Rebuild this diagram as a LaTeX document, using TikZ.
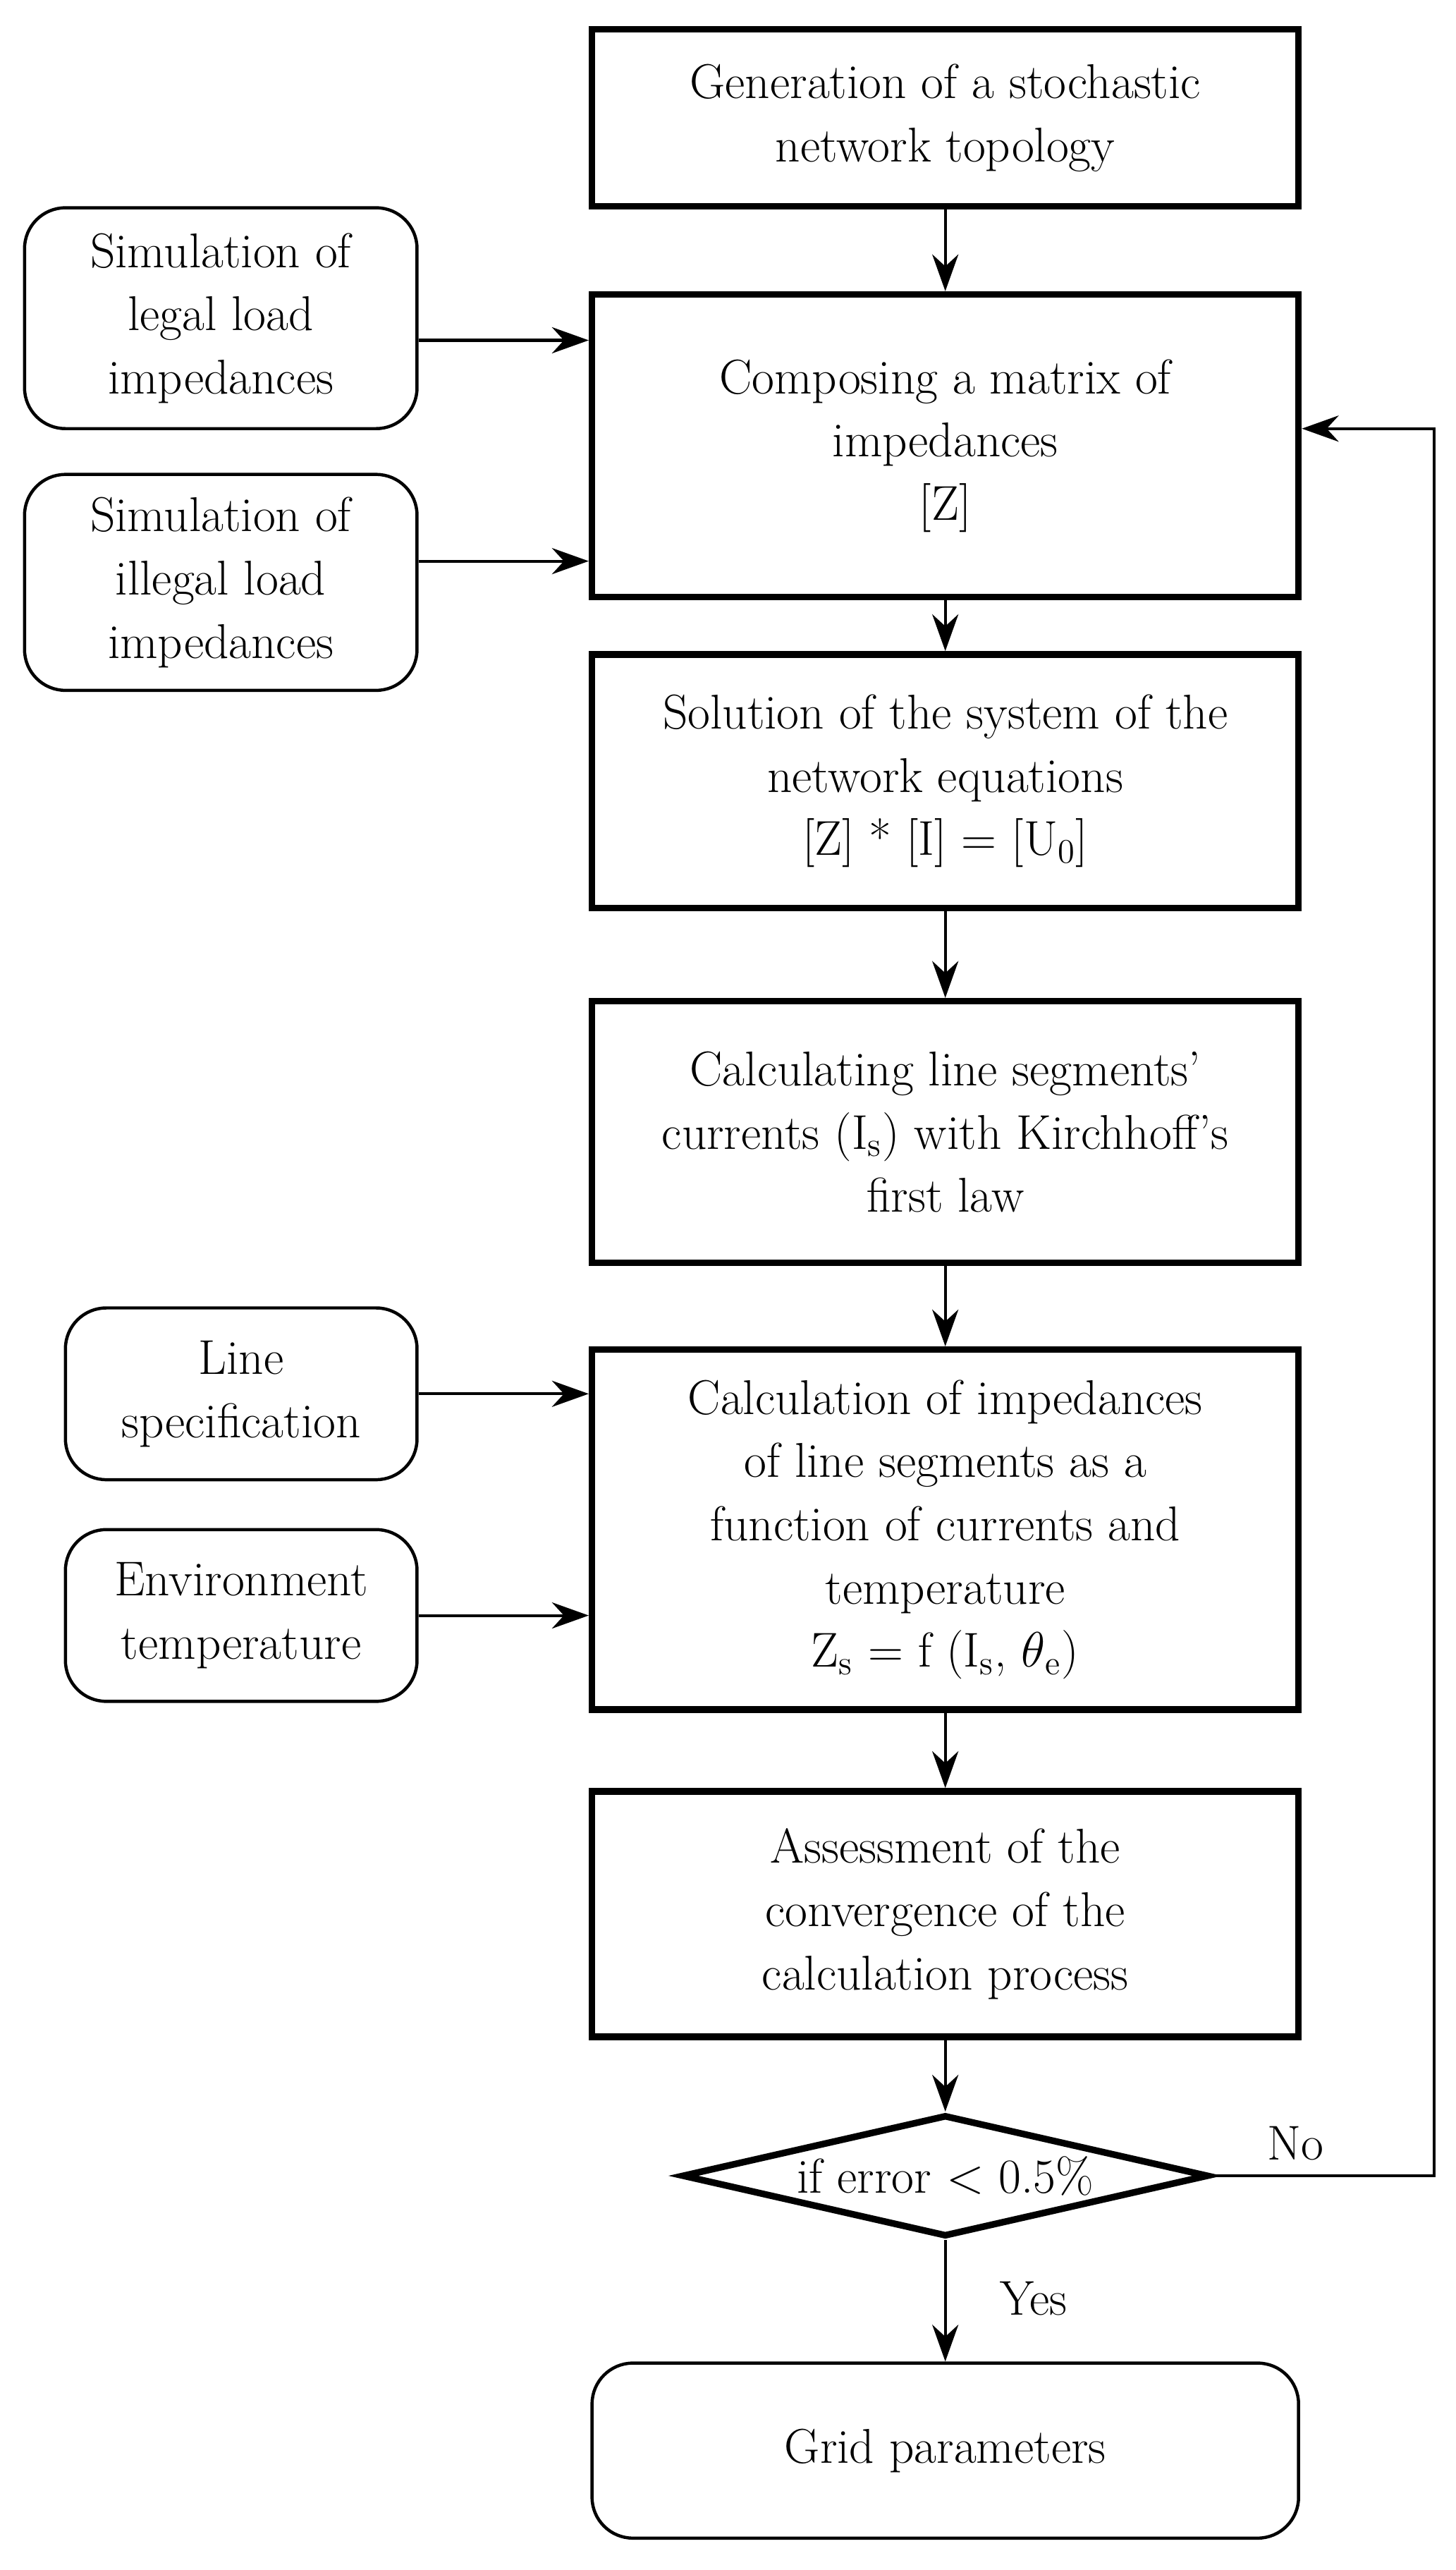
\documentclass[tikz,border=0pt]{standalone}
\usepackage{tikz}
\usetikzlibrary{shapes.geometric,arrows.meta}
\usepackage{amsmath}

\tikzset{
  stage/.style={draw, line width=2.3pt, minimum width=8.64cm, align=center, font=\fontsize{17}{22}\selectfont},
  input/.style={draw, line width=1.1pt, rounded corners=0.5cm, align=center, font=\fontsize{17}{22}\selectfont},
  link/.style={-{Stealth[length=0.45cm,width=0.32cm]}, line width=1pt}
}

\begin{document}
\begin{tikzpicture}
    \useasboundingbox (0,0) rectangle (17.8,-31.42);

    %Main steps
    \node[stage, minimum height=2.16cm] (gen) at (11.56,-1.44) {Generation of a stochastic\\network topology};
    \node[stage, minimum height=3.7cm] (comp) at (11.56,-5.45) {Composing a matrix of\\impedances\\{[Z]}};
    \node[stage, minimum height=3.1cm] (sol) at (11.56,-9.55) {Solution of the system of the\\network equations\\{[Z] * [I] = [U\textsubscript{0}]}};
    \node[stage, minimum height=3.2cm] (curr) at (11.56,-13.84) {Calculating line segments'\\currents (I\textsubscript{s}) with Kirchhoff's\\first law};
    \node[stage, minimum height=4.4cm] (imp) at (11.56,-18.7) {Calculation of impedances\\of line segments as a\\function of currents and\\temperature\\Z\textsubscript{s} = f (I\textsubscript{s}, $\theta$\textsubscript{e})};
    \node[stage, minimum height=3.0cm] (conv) at (11.56,-23.4) {Assessment of the\\convergence of the\\calculation process};

    %Decision
    \node[draw, diamond, aspect=3.6, line width=2.3pt, minimum width=6.44cm, inner sep=0pt, font=\fontsize{17}{22}\selectfont] (err) at (11.56,-26.6) {if error $<$ 0.5\%};

    %Result
    \node[input, minimum width=8.64cm, minimum height=2.14cm] (grid) at (11.56,-29.96) {Grid parameters};

    %Inputs
    \node[input, minimum width=4.8cm, minimum height=2.7cm] (legal) at (2.7,-3.89) {Simulation of\\legal load\\impedances};
    \node[input, minimum width=4.8cm, minimum height=2.64cm] (illegal) at (2.7,-7.12) {Simulation of\\illegal load\\impedances};
    \node[input, minimum width=4.3cm, minimum height=2.1cm] (spec) at (2.95,-17.04) {Line\\specification};
    \node[input, minimum width=4.3cm, minimum height=2.1cm] (env) at (2.95,-19.75) {Environment\\temperature};

    %Connectors
    \draw[link] (gen) -- (comp);
    \draw[link] (comp) -- (sol);
    \draw[link] (sol) -- (curr);
    \draw[link] (curr) -- (imp);
    \draw[link] (imp) -- (conv);
    \draw[link] (conv) -- (err);
    \draw[link] (err) -- (grid);

    \draw[link] (legal.east |- 0,-4.16) -- (comp.west |- 0,-4.16);
    \draw[link] (illegal.east |- 0,-6.86) -- (comp.west |- 0,-6.86);
    \draw[link] (spec.east) -- (imp.west |- spec.east);
    \draw[link] (env.east) -- (imp.west |- env.east);

    \coordinate (back) at (17.54,-5.24);
    \draw[link] (err.east) -| (back) -- (comp.east |- back);

    %Text
    \node[font=\fontsize{17}{22}\selectfont] (no) at (15.84,-26.2) {No};
    \node[font=\fontsize{17}{22}\selectfont] (yes) at (12.64,-28.1) {Yes};
\end{tikzpicture}
\end{document}
